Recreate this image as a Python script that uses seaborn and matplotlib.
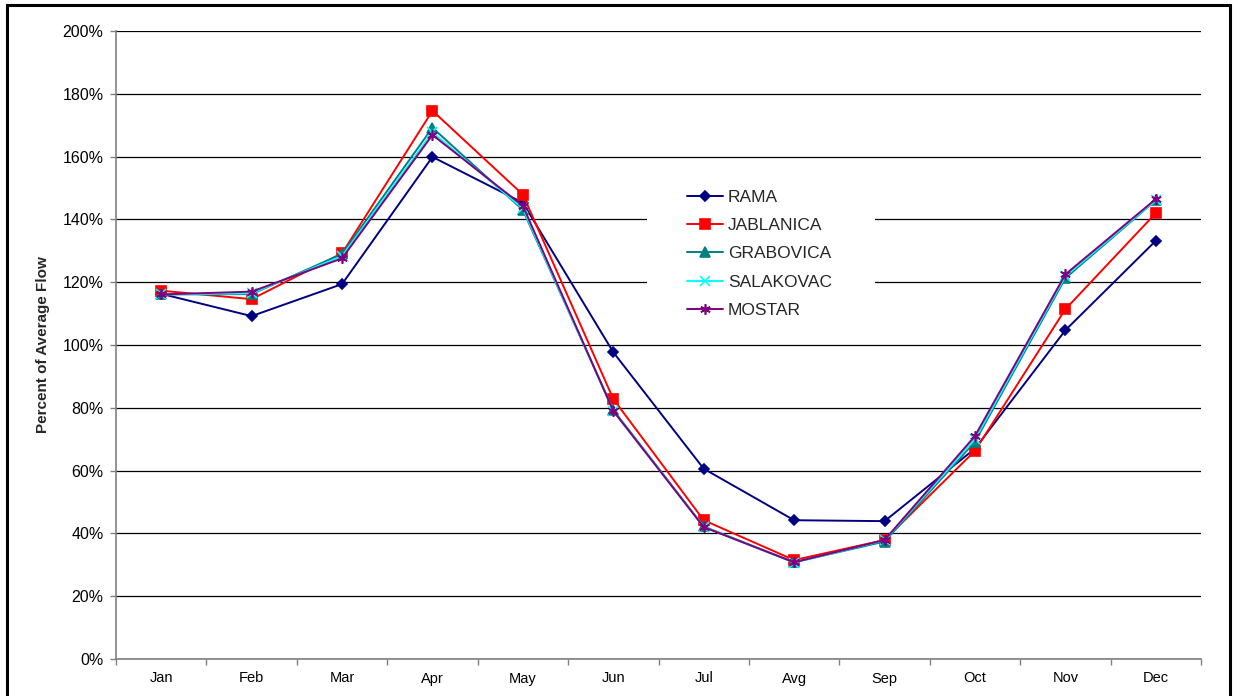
import matplotlib
matplotlib.use("Agg")
import matplotlib.pyplot as plt
from matplotlib.patches import Rectangle
from matplotlib.ticker import FixedLocator, PercentFormatter
import seaborn as sns
import pandas as pd

# Monthly flow as percent of the annual average, per gauging station
months = ["Jan", "Feb", "Mar", "Apr", "May", "Jun", "Jul", "Avg", "Sep", "Oct", "Nov", "Dec"]
rama = [116.3, 109.2, 119.4, 159.9, 145.3, 97.7, 60.6, 44.2, 43.9, 67.0, 104.7, 133.2]
jablanica = [117.3, 114.6, 129.2, 174.6, 147.9, 82.8, 44.2, 31.5, 37.9, 66.3, 111.4, 142.0]
grabovica = [116.1, 116.2, 129.0, 169.2, 143.0, 79.3, 42.2, 30.8, 37.4, 69.2, 121.3, 146.1]
salakovac = [116.1, 116.5, 128.3, 167.7, 143.5, 79.0, 42.1, 30.7, 37.8, 70.0, 121.9, 146.2]
mostar = [116.1, 117.0, 127.6, 166.9, 144.3, 79.0, 42.0, 30.8, 37.9, 71.0, 122.5, 146.5]

stations = ["RAMA", "JABLANICA", "GRABOVICA", "SALAKOVAC", "MOSTAR"]
series = [rama, jablanica, grabovica, salakovac, mostar]
colors = ["#000080", "#FF0000", "#008080", "#00FFFF", "#800080"]
markers = ["D", "s", "^", "x", (6, 2, 0)]
msizes = [5, 6.5, 6.5, 6.5, 7.5]

sns.set_theme(style="white")
plt.rcParams["font.family"] = ["Liberation Sans", "DejaVu Sans"]

W, H = 1233, 696
fig = plt.figure(figsize=(W / 100, H / 100), dpi=100)
ax = fig.add_axes([116 / W, 1 - 659 / H, (1201 - 116) / W, (659 - 31) / H])

pos = list(range(len(months)))
for name, vals, col, mk, ms in zip(stations, series, colors, markers, msizes):
    df = pd.DataFrame({"x": pos, "y": vals})
    sns.lineplot(data=df, x="x", y="y", ax=ax, color=col, marker=mk,
                 markersize=ms, markeredgecolor=col, markeredgewidth=1.2,
                 linewidth=1.4, label=name, zorder=3)

ax.set_xlim(-0.5, len(months) - 0.5)
ax.set_ylim(0, 200)
ax.yaxis.set_major_locator(FixedLocator(range(0, 201, 20)))
ax.yaxis.set_major_formatter(PercentFormatter(decimals=0))
ax.grid(axis="y", color="black", linewidth=0.9)
ax.set_axisbelow(True)

# tick marks between months, labels at month centres
ax.xaxis.set_major_locator(FixedLocator([p - 0.5 for p in pos] + [len(months) - 0.5]))
ax.xaxis.set_major_formatter(plt.NullFormatter())
ax.xaxis.set_minor_locator(FixedLocator(pos))
ax.set_xticklabels(months, minor=True)
ax.tick_params(axis="x", which="major", direction="out", length=4, width=1,
               color="#808080", bottom=True)
ax.tick_params(axis="x", which="minor", length=0, pad=9, labelsize=10.5,
               labelcolor="black")
ax.tick_params(axis="y", direction="out", length=4, width=1, color="#808080",
               left=True, labelsize=11.5, pad=5, labelcolor="black")

for side in ["top", "right"]:
    ax.spines[side].set_visible(False)
for side in ["left", "bottom"]:
    ax.spines[side].set_color("#808080")
    ax.spines[side].set_linewidth(1.2)

ax.set_xlabel("")
ax.set_ylabel("Percent of Average Flow", fontsize=11, fontweight="bold",
              labelpad=9)

# white legend area interrupting the gridlines
ax.add_patch(Rectangle((647 / W, 1 - 335 / H), (875 - 647) / W, (335 - 165) / H,
                       transform=fig.transFigure, facecolor="white",
                       edgecolor="none", zorder=1))

leg = ax.legend(loc="upper left", bbox_to_anchor=(687 / W, 1 - 190 / H),
                bbox_transform=fig.transFigure, borderaxespad=0,
                fontsize=12.5, frameon=False, handlelength=2.05,
                handletextpad=0.3, labelspacing=0.75, borderpad=0)
leg.set_zorder(5)

# outer chart frame
fig.patches.append(Rectangle((7 / W, -0.05), (1230 - 7) / W, 1 - 5 / H + 0.05,
                             transform=fig.transFigure, fill=False,
                             edgecolor="black", linewidth=2.2, clip_on=False))

fig.savefig("out.png", dpi=100)
